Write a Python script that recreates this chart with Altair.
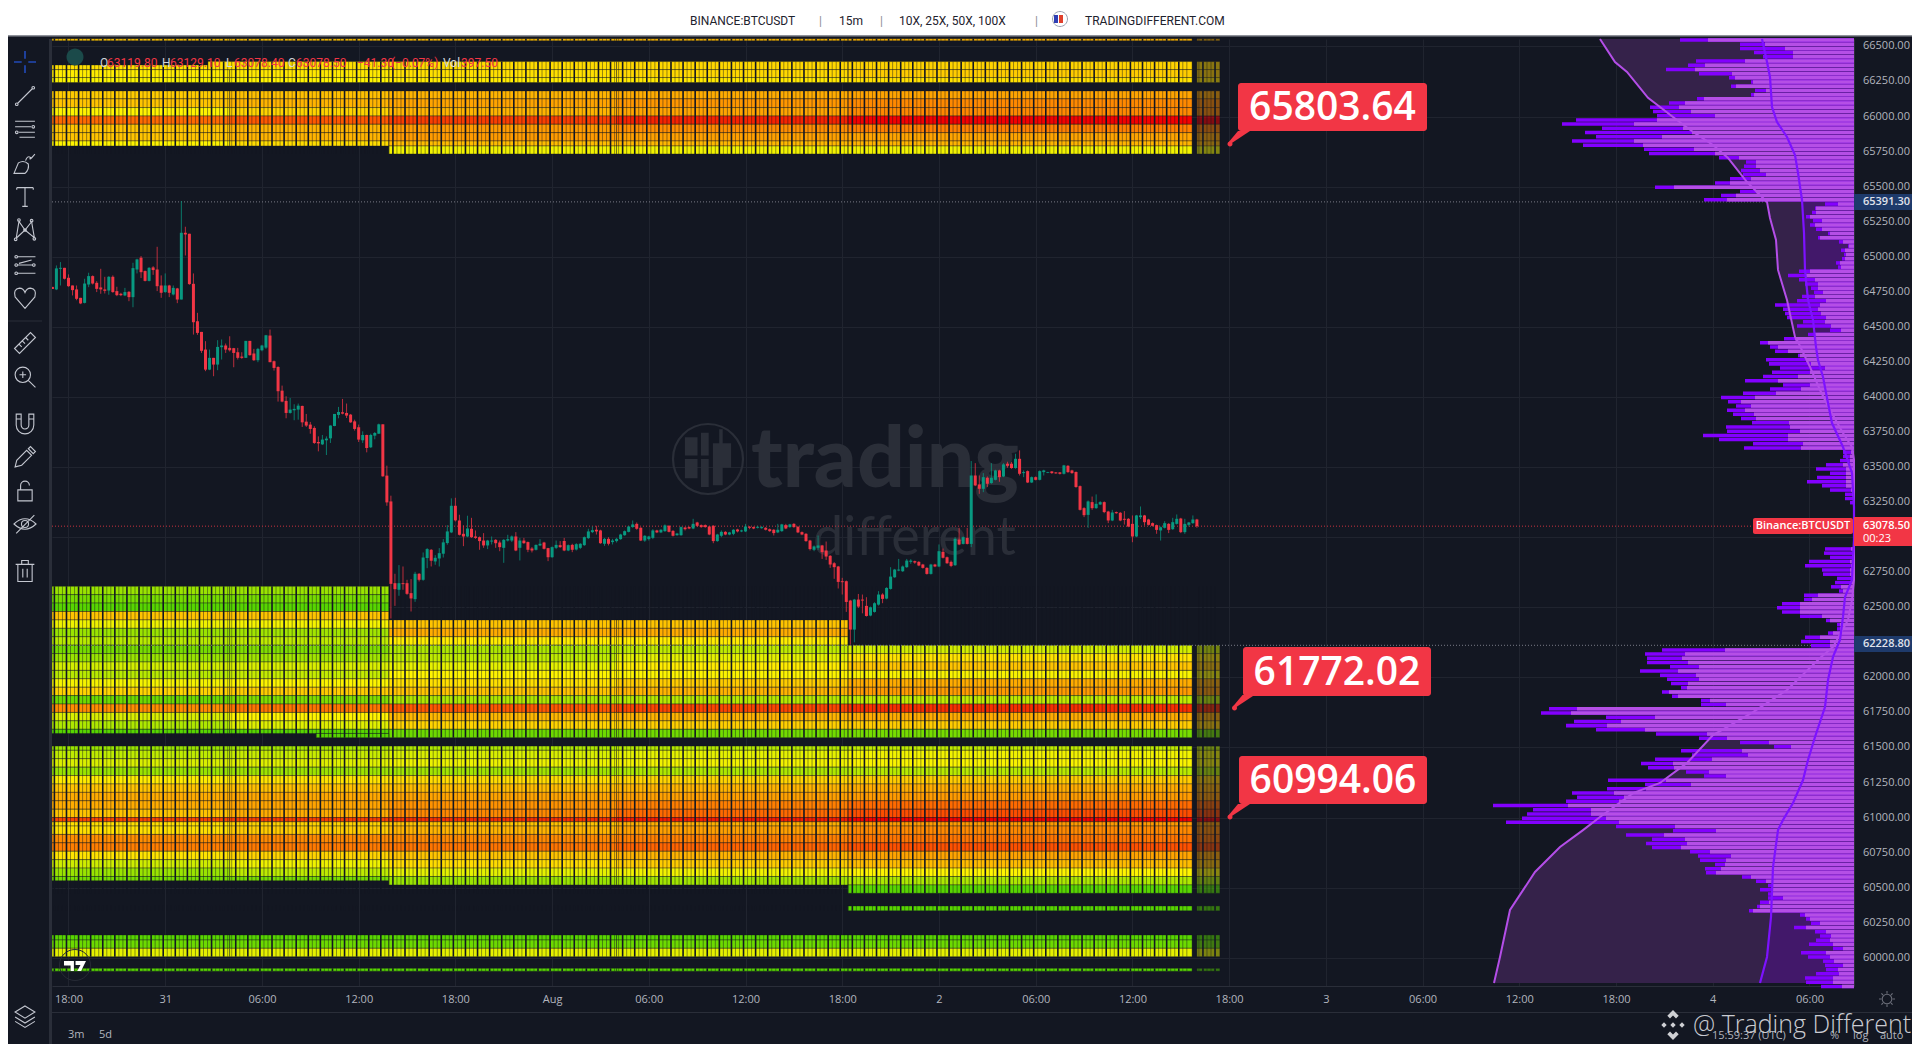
import altair as alt
import pandas as pd

alt.data_transformers.disable_max_rows()

# ---------- candles: first bar index, then open / high / low / close (USD) ----------
first_bar = -4
opens = [64785,64767,64914,64921,64850,64795,64767,64707,64671,64802,
64862,64814,64781,64767,64759,64857,64755,64736,64724,64750,
64712,64909,64993,64898,64828,64924,64909,64795,64748,64795,
64731,64774,64695,65171,65164,64807,64540,64464,64338,64195,
64279,64231,64355,64367,64350,64348,64319,64288,64279,64400,
64310,64262,64333,64352,64438,64255,64214,64045,63972,63886,
63905,63910,63936,63824,63803,63779,63679,63662,63691,63705,
63793,63872,63891,63886,63874,63826,63784,63691,63729,63641,
63724,63738,63805,63439,63255,62672,62625,62672,62672,62601,
62558,62739,62696,62851,62910,62827,62848,62882,62958,63034,
63224,63119,63024,63005,63060,63005,63000,62976,62941,62969,
62981,62962,62924,62976,62976,63005,62924,62976,62965,62919,
62910,62941,62962,62922,62857,62924,62943,62972,62905,62945,
62912,62924,62943,62993,63036,63053,63048,62953,62988,62965,
62972,62986,63014,63038,63072,63095,63067,62976,62986,62995,
63048,63034,63043,63081,63045,63014,63014,63069,63072,63062,
63105,63086,63086,63076,63081,62972,63010,63038,63019,63024,
63055,63041,63041,63074,63072,63067,63064,63067,63057,63053,
63034,63043,63086,63072,63095,63074,63036,63024,62976,62910,
62924,62941,62905,62867,62814,62791,62686,62686,62548,62341,
62555,62555,62510,62441,62467,62519,62591,62562,62631,62714,
62762,62757,62786,62824,62829,62824,62805,62781,62738,62805,
62791,62895,62857,62824,62800,62983,62952,62995,62952,63440,
63376,63345,63424,63386,63409,63476,63433,63524,63524,63493,
63559,63457,63471,63390,63428,63409,63464,63459,63469,63462,
63462,63452,63509,63476,63464,63364,63207,63159,63250,63207,
63233,63250,63183,63119,63179,63174,63131,63131,63095,63005,
63143,63155,63126,63100,63086,63048,63067,63095,63057,63095,
63133,63036,63088,63100,63126]
highs = [64785,64938,64962,64921,64874,64795,64795,64707,64843,64886,
64867,64826,64914,64857,64862,64867,64786,64743,64778,64755,
64957,64986,65005,64902,64926,64933,65071,64867,64881,64800,
64795,64778,65397,65214,65164,64881,64600,64464,64398,64338,
64279,64405,64410,64381,64433,64350,64350,64319,64400,64400,
64343,64350,64372,64443,64481,64260,64219,64081,64005,63993,
63948,63953,63938,63879,63822,63791,63719,63729,63719,63798,
63793,63929,63986,63953,63879,63838,63803,63755,63731,63738,
63750,63810,63805,63510,63296,62739,62801,62791,62696,62701,
62753,62744,62891,62922,62915,62872,62922,62986,63086,63277,
63281,63160,63084,63153,63138,63048,63005,63029,62981,63005,
62986,62976,62986,63017,63012,63036,62995,62995,62969,62929,
62948,62986,62967,62924,62934,62976,62972,62995,62948,62953,
62957,62957,63005,63060,63076,63081,63053,62995,63000,62988,
62995,63024,63048,63081,63119,63105,63072,63014,63010,63057,
63053,63057,63091,63086,63050,63031,63076,63074,63076,63131,
63110,63091,63091,63081,63086,63024,63048,63043,63038,63057,
63060,63053,63095,63079,63076,63081,63079,63072,63062,63057,
63095,63095,63095,63095,63100,63079,63041,63029,62981,62941,
63012,62945,62969,62872,62822,62795,62710,62691,62553,62560,
62595,62591,62572,62505,62536,62615,62600,62643,62786,62774,
62845,62798,62845,62843,62833,62829,62810,62786,62810,62810,
62948,62919,62862,62833,63000,63067,63005,63067,63543,63528,
63440,63457,63433,63528,63481,63481,63528,63538,63536,63595,
63619,63476,63476,63433,63433,63476,63481,63466,63471,63464,
63464,63516,63514,63481,63469,63369,63214,63262,63290,63305,
63257,63255,63188,63195,63183,63179,63186,63136,63155,63159,
63219,63159,63131,63105,63090,63076,63114,63100,63138,63162,
63138,63131,63109,63155,63131]
lows = [64770,64762,64795,64838,64786,64724,64690,64662,64667,64783,
64802,64748,64736,64738,64729,64743,64719,64719,64719,64683,
64640,64881,64848,64824,64824,64871,64755,64707,64743,64712,
64724,64669,64695,65009,64800,64445,64443,64314,64184,64191,
64148,64191,64267,64314,64324,64212,64267,64272,64279,64295,
64257,64248,64326,64343,64248,64188,63967,63962,63848,63881,
63834,63838,63786,63786,63738,63665,63612,63657,63586,63672,
63791,63848,63876,63850,63815,63760,63679,63672,63605,63636,
63698,63736,63431,63224,62420,62510,62582,62625,62589,62470,
62539,62684,62689,62779,62791,62803,62791,62855,62946,63029,
63112,63012,62936,63000,62995,62988,62910,62924,62915,62948,
62924,62900,62817,62969,62965,62900,62834,62953,62893,62891,
62905,62936,62912,62829,62853,62915,62924,62900,62900,62893,
62905,62915,62938,62988,63029,63019,62953,62938,62941,62948,
62962,62981,63010,63034,63067,63053,62972,62967,62976,62986,
63029,63029,63038,63034,63005,63010,63010,63048,63057,63057,
63072,63067,63067,63014,62957,62967,63000,63014,63014,63014,
63034,63036,63036,63057,63057,63062,63060,63048,63038,63012,
63029,63038,63057,63067,63067,63029,63014,62967,62905,62900,
62910,62845,62838,62781,62703,62634,62591,62467,62234,62250,
62495,62457,62434,62436,62462,62512,62529,62557,62626,62710,
62757,62752,62781,62810,62810,62793,62776,62733,62733,62786,
62786,62848,62810,62786,62795,62943,62948,62948,62929,63364,
63309,63321,63357,63381,63405,63395,63428,63495,63488,63488,
63440,63428,63386,63386,63405,63405,63440,63457,63452,63452,
63447,63447,63459,63452,63352,63190,63143,63067,63195,63202,
63229,63171,63100,63114,63167,63114,63090,63071,62964,63000,
63129,63083,63083,63076,63024,62976,63062,63029,63052,63090,
63029,63024,63076,63095,63067]
closes = [64770,64917,64921,64843,64790,64762,64700,64667,64809,64862,
64809,64771,64767,64757,64857,64748,64726,64726,64748,64712,
64919,64981,64890,64828,64921,64905,64790,64743,64795,64743,
64778,64695,65171,65159,64805,64533,64457,64329,64195,64279,
64231,64357,64367,64338,64333,64314,64279,64279,64400,64298,
64262,64343,64367,64440,64248,64207,64041,63967,63886,63910,
63915,63938,63819,63796,63772,63672,63669,63696,63703,63796,
63879,63893,63881,63867,63819,63772,63696,63729,63636,63729,
63743,63805,63434,63248,62667,62629,62672,62665,62596,62563,
62739,62696,62855,62915,62832,62853,62886,62963,63041,63224,
63120,63017,63005,63062,63000,62995,62972,62941,62976,62976,
62957,62929,62981,62986,63005,62905,62976,62957,62910,62905,
62945,62953,62917,62857,62929,62945,62929,62905,62943,62910,
62950,62953,63000,63041,63050,63041,62957,62988,62953,62976,
62988,63019,63043,63076,63091,63060,62976,63010,63005,63048,
63034,63053,63084,63038,63010,63026,63072,63057,63062,63095,
63081,63072,63072,63019,62972,63019,63038,63019,63034,63053,
63041,63048,63076,63067,63062,63074,63072,63053,63043,63029,
63053,63091,63062,63091,63072,63034,63019,62972,62915,62934,
62941,62893,62862,62805,62786,62681,62679,62538,62341,62555,
62505,62548,62438,62500,62529,62591,62560,62638,62719,62769,
62769,62791,62833,62833,62819,62798,62781,62738,62805,62791,
62900,62853,62814,62795,62988,62948,63000,62952,63440,63369,
63345,63428,63381,63424,63476,63428,63519,63509,63493,63559,
63452,63464,63390,63428,63409,63471,63476,63464,63457,63455,
63452,63512,63464,63457,63357,63195,63157,63255,63207,63238,
63250,63179,63119,63176,63171,63119,63124,63076,63005,63155,
63155,63107,63088,63081,63052,63071,63100,63052,63107,63131,
63036,63095,63105,63126,63078]

# ---------- volume profile: 30 USD rows from the top price down ----------
profile_top_price = 66546
profile_total = [174,114,114,100,91,158,166,188,155,125,103,123,99,103,157,185,204,201,197,278,
292,252,269,258,282,271,210,205,135,108,110,113,111,124,139,199,114,133,150,29,
39,42,48,41,44,38,26,36,15,6,13,10,12,18,16,55,66,55,49,43,
40,52,57,79,71,69,67,51,57,24,46,70,94,84,79,56,88,85,74,82,
91,109,71,84,111,133,126,118,127,121,113,102,128,127,151,135,101,110,11,11,
14,28,38,24,37,47,32,24,9,9,4,1,0,0,0,0,0,0,0,0,
0,29,30,24,45,49,32,31,17,19,23,15,50,50,72,77,72,54,28,17,
17,26,49,53,43,192,209,207,207,184,214,194,187,183,173,192,182,153,153,305,
313,248,280,288,258,198,155,114,80,173,162,199,213,206,168,150,246,209,247,282,
277,288,361,321,327,332,348,238,181,228,202,208,202,164,156,154,139,149,148,112,
98,86,94,86,86,94,97,105,54,48,43,60,39,34,38,45,21,53,46,31,
29,28,38,49,48,33]
profile_value_area = [146,89,69,61,61,109,149,159,122,119,101,118,88,100,150,169,175,163,139,197,
220,171,162,192,220,211,160,139,115,98,98,94,88,103,124,180,98,118,127,16,
38,38,44,32,39,32,24,34,11,5,9,8,9,14,13,44,49,39,36,36,
31,39,28,34,36,33,28,29,23,13,39,59,86,76,66,54,48,43,29,44,
56,76,44,53,78,99,113,103,109,100,98,65,64,54,66,66,51,53,3,4,
4,11,8,8,8,8,8,3,2,1,1,1,0,0,0,0,0,0,0,0,
0,3,1,1,4,3,4,4,3,4,13,11,36,42,54,54,54,32,24,14,
14,21,34,24,24,129,169,172,166,155,176,158,155,166,167,185,176,144,128,277,
283,199,233,247,209,147,127,85,63,112,106,142,181,180,145,128,188,163,208,240,
230,235,286,263,263,248,235,179,138,190,169,167,173,144,123,128,129,133,138,103,
88,81,83,83,71,85,94,101,49,44,34,48,28,23,24,21,11,28,24,20,
11,16,15,21,21,12]
# two curves over the profile: (width from the right edge, price)
curve_a_width = [254,239,227,206,181,161,141,126,107,87,84,78,76,67,59,56,44,34,24,11,2,0,0,2,6,21,34,67,101,141,167,194,221,254,271,294,319,344,354,360]
curve_a_price = [66553,66389,66318,66133,65997,65890,65797,65705,65533,65391,65277,65120,64906,64692,64428,64392,64214,64050,63907,63743,63643,63551,62695,62552,62410,62217,62138,61910,61753,61589,61390,61247,61175,61004,60911,60790,60612,60341,60006,59820]
curve_b_width = [92,87,84,82,77,67,59,56,52,50,49,46,41,38,36,31,26,22,11,2,1,0,0,1,2,9,11,14,21,26,29,39,46,51,61,71,76,81,83,87,94]
curve_b_price = [66553,66389,66282,66068,65961,65854,65726,65598,65405,65170,64906,64692,64549,64356,64264,64143,63957,63814,63643,63458,63337,63215,62980,62859,62695,62574,62431,62267,62146,61982,61789,61575,61411,61268,61104,60983,60911,60647,60291,60006,59820]

# ---------- liquidation heat rows: top, bottom, heat in five time spans ----------
N = None
heat_top = [66555,66392,66335,66278,66183,66126,66064,66004,65945,65885,65826,65790,
62650,62590,62530,62470,62410,62350,62290,62230,62170,62110,62050,61990,61930,61870,61810,61750,61690,61630,61630,
61510,61480,61420,61360,61300,61240,61180,61120,61060,61000,60970,60940,60880,60820,60760,60700,60640,60580,60580,60520,
60370,60163,60127,60068,59925]
heat_bot = [66540,66335,66278,66242,66126,66064,66004,65945,65885,65826,65790,65733,
62590,62530,62470,62410,62350,62290,62230,62170,62110,62050,61990,61930,61870,61810,61750,61690,61630,61600,61570,
61480,61420,61360,61300,61240,61180,61120,61060,61000,60970,60940,60880,60820,60760,60700,60640,60580,60550,60520,60460,
60335,60127,60068,60008,59905]
heat_a1 = [.62,N,.52,.48,.6,.62,.5,.82,.62,.62,.5,N,
.2,.12,.06,.62,.45,.2,.28,.12,.2,.36,.28,.47,.58,.1,.75,.38,.25,.06,N,
.2,.3,.38,.2,.52,.62,.68,.68,.62,.9,.55,.55,.75,.78,.54,.35,.2,.12,N,N,
N,.06,.1,.42,.06]
heat_a2 = [.63,N,.53,.5,.63,.66,.58,.85,.66,.66,.56,N,
.2,.12,.06,.62,.47,.22,.3,.14,.22,.38,.32,.49,.6,.14,.8,.5,.4,.06,N,
.22,.33,.4,.21,.54,.63,.69,.7,.68,.92,.58,.6,.76,.79,.58,.45,.3,.12,N,N,
N,.06,.1,.42,.06]
heat_b1 = [.64,.56,.55,.52,.66,.7,.66,.92,.72,.72,.64,.46,
N,N,N,N,.62,.68,.52,.25,.3,.42,.5,.55,.62,.25,.85,.65,.58,N,.1,
.25,.38,.44,.22,.56,.64,.7,.74,.76,.95,.62,.66,.76,.8,.62,.56,.42,N,.2,N,
N,.06,.1,.42,.06]
heat_b2 = [.65,.57,.57,.53,.68,.73,.7,.97,.75,.71,.65,.46,
N,N,N,N,.62,.68,.52,.3,.42,.52,.49,.6,.66,.27,.9,.66,.59,N,.11,
.27,.42,.46,.25,.58,.66,.71,.78,.82,.98,.67,.71,.78,.83,.66,.6,.46,N,.22,N,
N,.06,.1,.42,.06]
heat_c = [.66,.58,.6,.55,.7,.76,.76,1,.78,.7,.66,.46,
N,N,N,N,N,N,N,.36,.54,.62,.48,.68,.72,.3,.95,.68,.6,N,.12,
.3,.46,.48,.28,.6,.68,.72,.82,.88,1,.72,.76,.8,.87,.7,.64,.5,N,.25,.06,
.06,.06,.1,.42,.06]
span_edges = [-4.1, 40, 79.5, 136, 193.4, 278.8]
dim_span = [280.0, 285.7]
# short pieces of rows that change inside a span
patch_start = [-4.1, 34.6, 34.6, 61.4]
patch_end = [34.6, 40, 79.5, 79.5]
patch_top = [66368, 66392, 66392, 61600]
patch_bot = [66335, 66335, 66335, 61570]
patch_heat = [.55, .55, .55, .06]
heat_bands_top = [66555,66392,66183,62650,61510,60370,60163,59925]
heat_bands_bot = [66540,66242,65733,61570,60460,60335,60008,59905]
heat_stops = [0, .25, .5, .7, .85, 1]
heat_colors = ["#2cd000", "#aee800", "#fff400", "#ffa400", "#ff5800", "#f40000"]

price_ticks = list(range(60000, 66501, 250))
hidden_price_labels = [63000, 62250]
time_ticks = list(range(0, 433, 24))
time_labels = ["18:00","31","06:00","12:00","18:00","Aug","06:00","12:00","18:00","2","06:00","12:00","18:00","3","06:00","12:00","18:00","4","06:00"]
price_lines = [65391.30, 62228.80]
last_price = 63078.50
callouts = ["65803.64", "61772.02", "60994.06"]

# ---------- scales and frames ----------
BG = "#131722"
XMIN, XMAX = -4.094, 443.05
BAR_PX = 4.03
xs = alt.Scale(domain=[XMIN, XMAX], nice=False, zero=False, padding=0)
ys = alt.Scale(domain=[59799, 66553], nice=False, zero=False, padding=0)
def X(f, **k): return alt.X(f, scale=xs, title=None, **k)
def Y(f, **k): return alt.Y(f, scale=ys, title=None, **k)

candles = pd.DataFrame({"b": range(first_bar, first_bar + len(opens)), "o": opens, "h": highs, "l": lows, "c": closes})
up = candles[candles.c >= candles.o]
down = candles[candles.c < candles.o]

cells, dim = [], []
for t, bo, a1, a2, b1, b2, c in zip(heat_top, heat_bot, heat_a1, heat_a2, heat_b1, heat_b2, heat_c):
    for i, v in enumerate((a1, a2, b1, b2, c)):
        if v is not None:
            cells.append(dict(x=span_edges[i], x2=span_edges[i + 1], t=t, b=bo, v=v))
    if c is not None:
        dim.append(dict(x=dim_span[0], x2=dim_span[1], t=t, b=bo, v=c))
for s, e, t, bo, v in zip(patch_start, patch_end, patch_top, patch_bot, patch_heat):
    cells.append(dict(x=s, x2=e, t=t, b=bo, v=v))
cells = pd.DataFrame(cells)
dim = pd.DataFrame(dim)

gaps_thin, gaps_thick = [], []
for t, bo in zip(heat_bands_top, heat_bands_bot):
    for g in range(first_bar, 286):
        if 279 <= g <= 280:
            continue
        (gaps_thick if g % 3 == 0 else gaps_thin).append(dict(x=g - 0.5, t=t, b=bo))
gaps_thin = pd.DataFrame(gaps_thin)
gaps_thick = pd.DataFrame(gaps_thick)

prof = pd.DataFrame({"p": [profile_top_price - 30 * i for i in range(len(profile_total))], "tot": profile_total, "va": profile_value_area})
prof = prof[prof.tot > 0].copy()
prof["xt"] = XMAX - prof.tot / BAR_PX
prof["xv"] = XMAX - prof.va / BAR_PX
prof["xr"] = XMAX
prof["y1"] = prof.p + 12.5
prof["y2"] = prof.p - 12.5
cv_a = pd.DataFrame({"i": range(len(curve_a_price)), "x": [XMAX - w / BAR_PX for w in curve_a_width], "p": curve_a_price, "xr": XMAX})
cv_b = pd.DataFrame({"i": range(len(curve_b_price)), "x": [XMAX - w / BAR_PX for w in curve_b_width], "p": curve_b_price, "xr": XMAX})
price_labels = pd.DataFrame({"p": [p for p in price_ticks if p not in hidden_price_labels]})
price_labels["s"] = price_labels.p.map(lambda v: f"{v:.2f}")

one = pd.DataFrame({"a": [1]})
PL, PT = 52, 39  # page position of the plot's corner

def txt(s, px, py, size=11, color="#b2b5be", font="Open Sans", align="left", weight=400, baseline="middle", opacity=1):
    return alt.Chart(one).mark_text(text=s, font=font, fontSize=size, color=color, align=align, fontWeight=weight,
                                    baseline=baseline, opacity=opacity).encode(x=alt.value(px - PL), y=alt.value(py - PT))
def box(x0, y0, x1, y1, color, r=0, opacity=1):
    return alt.Chart(one).mark_rect(color=color, cornerRadius=r, opacity=opacity).encode(
        x=alt.value(x0 - PL), x2=alt.value(x1 - PL), y=alt.value(y0 - PT), y2=alt.value(y1 - PT))
def icon(px, py, path, span=24, color="#d1d4dc", filled=False, width=1.1, opacity=1):
    if filled:
        kw = dict(filled=True, color=color)
    else:
        kw = dict(filled=False, color=color, strokeWidth=width)
    return alt.Chart(one).mark_point(shape=path, size=span * span, opacity=opacity, **kw).encode(x=alt.value(px - PL), y=alt.value(py - PT))

# ---------- layers ----------
base = alt.Chart(pd.DataFrame({"x": [XMIN, XMAX], "y": [59799, 66553]})).mark_point(opacity=0).encode(
    x=alt.X("x:Q", scale=xs, title=None, axis=alt.Axis(
        values=time_ticks, labelExpr="[" + ",".join(f"'{t}'" for t in time_labels) + "][datum.value/24]",
        grid=True, gridColor="#20242f", gridWidth=1, ticks=False, domainColor="#2a2e39", labelColor="#b2b5be",
        labelFont="Open Sans", labelFontSize=11, labelPadding=7, labelOverlap=False, labelFlush=False)),
    y=alt.Y("y:Q", scale=ys, title=None, axis=alt.Axis(
        orient="right", values=price_ticks, labels=False,
        grid=True, gridColor="#20242f", gridWidth=1, ticks=False, domainColor="#2a2e39")))

layers = [base]

# watermark
WM = "#2a2e38"
logo = "M-0.66,-0.62 L-0.3,-0.62 L-0.3,-0.1 L-0.66,-0.1 Z M-0.2,-0.75 L0.02,-0.75 L0.02,-0.1 L-0.2,-0.1 Z M-0.66,0 L-0.3,0 L-0.3,0.55 L-0.66,0.55 Z M-0.2,0 L0.02,0 L0.02,0.8 L-0.2,0.8 Z M0.14,-0.45 L0.32,-0.45 L0.32,-0.85 L0.42,-0.85 L0.42,-0.45 L0.66,-0.45 L0.66,0.25 L0.42,0.25 L0.42,0.75 L0.14,0.75 Z"
layers += [
    icon(708, 459, "M-1,0 A1,1 0 1,0 1,0 A1,1 0 1,0 -1,0 Z", span=70, color=WM, width=2.2),
    icon(708, 459, logo, span=70, color=WM, filled=True),
    txt("trading", 751, 487, size=84, color=WM, font="Lato", weight=900, baseline="alphabetic"),
    txt("different", 813, 555, size=54, color=WM, font="Lato", weight=400, baseline="alphabetic"),
]

# heat map
heat_color = alt.Color("v:Q", legend=None, scale=alt.Scale(domain=heat_stops, range=heat_colors, clamp=True))
layers += [
    alt.Chart(cells).mark_rect(stroke=BG, strokeWidth=0.7, strokeOpacity=0.55).encode(x=X("x:Q"), x2="x2:Q", y=Y("t:Q"), y2="b:Q", color=heat_color),
    alt.Chart(dim).mark_rect(stroke=BG, strokeWidth=0.7, strokeOpacity=0.55, opacity=0.5).encode(x=X("x:Q"), x2="x2:Q", y=Y("t:Q"), y2="b:Q", color=heat_color),
    alt.Chart(gaps_thin).mark_rule(color=BG, strokeWidth=1, opacity=0.45).encode(x=X("x:Q"), y=Y("t:Q"), y2="b:Q"),
    alt.Chart(gaps_thick).mark_rule(color=BG, strokeWidth=1.6).encode(x=X("x:Q"), y=Y("t:Q"), y2="b:Q"),
]

# price lines
for p, col in [(price_lines[0], "#787b86"), (price_lines[1], "#787b86"), (last_price, "#c8323f")]:
    layers.append(alt.Chart(pd.DataFrame({"p": [p], "a": [XMIN], "z": [XMAX]})).mark_rule(color=col, strokeWidth=1, strokeDash=[1, 2]).encode(x=X("a:Q"), x2="z:Q", y=Y("p:Q")))

# candles
for frame, col in [(up, "#089981"), (down, "#f23645")]:
    layers.append(alt.Chart(frame).mark_rule(color=col, strokeWidth=1, opacity=0.75).encode(x=X("b:Q"), y=Y("h:Q"), y2="l:Q"))
    layers.append(alt.Chart(frame).mark_bar(color=col, size=3).encode(x=X("b:Q"), y=Y("o:Q"), y2="c:Q"))

# volume profile
layers += [
    alt.Chart(cv_a).mark_area(color="#35224a", opacity=1, orient="horizontal").encode(x=X("x:Q"), x2="xr:Q", y=Y("p:Q")),
    alt.Chart(cv_b).mark_area(color="#42186a", opacity=1, orient="horizontal").encode(x=X("x:Q"), x2="xr:Q", y=Y("p:Q")),
    alt.Chart(prof).mark_rect(color="#8300ff").encode(x=X("xt:Q"), x2="xr:Q", y=Y("y1:Q"), y2="y2:Q"),
    alt.Chart(prof).mark_rect(color="#b54fe6").encode(x=X("xv:Q"), x2="xr:Q", y=Y("y1:Q"), y2="y2:Q"),
    alt.Chart(cv_a).mark_line(color="#b44ee8", strokeWidth=2).encode(x=X("x:Q"), y=Y("p:Q"), order=alt.Order("i:Q")),
    alt.Chart(cv_b).mark_line(color="#7d12ff", strokeWidth=2.2).encode(x=X("x:Q"), y=Y("p:Q"), order=alt.Order("i:Q")),
]

# price scale labels
layers.append(alt.Chart(price_labels).mark_text(font="Open Sans", fontSize=11, color="#b2b5be", align="left", baseline="middle").encode(
    x=alt.value(1863 - PL), y=Y("p:Q"), text="s:N"))

# legend line over the chart
OHLC = [("O", 100, "#d1d4dc"), ("63119.80", 107, "#f23645"), ("H", 162, "#d1d4dc"), ("63129.10", 170, "#f23645"),
        ("L", 226, "#d1d4dc"), ("63078.40", 234, "#f23645"), ("C", 288, "#d1d4dc"), ("63078.50", 296, "#f23645"),
        ("\u221241.30", 357, "#f23645"), ("(\u22120.07%)", 391, "#f23645"), ("Vol", 443, "#d1d4dc"), ("397.50", 461, "#f23645")]
layers.append(icon(75, 57, "M-1,0 A1,1 0 1,0 1,0 A1,1 0 1,0 -1,0 Z", span=17, color="#1b4a4a", filled=True))
for s, x, c in OHLC:
    layers.append(txt(s, x, 63, size=12, color=c, font="Roboto"))

# callouts
RED = "#f23645"
tip = "M-0.1,-0.35 L0.5,-0.35 L-0.52,0.32 L-0.58,0.22 Z"
for s, (x0, y0, x1, y1, tx, ty) in zip(callouts, [(1238, 83, 1427, 131, 1230, 144), (1243, 647, 1431, 696, 1234.5, 708), (1239, 756, 1427, 804, 1230, 817)]):
    layers.append(icon(tx + 10, ty - 6, tip, span=40, color=RED, filled=True))
    layers.append(icon(tx, ty, "M-1,0 A1,1 0 1,0 1,0 A1,1 0 1,0 -1,0 Z", span=5, color=RED, filled=True))
    layers.append(box(x0, y0, x1, y1, RED, r=3))
    layers.append(txt(s, (x0 + x1) / 2, (y0 + y1) / 2 + 1, size=39, color="#ffffff", align="center", weight=600))

# price tags
layers += [
    box(1854, 194, 1912, 210, "#1e3a6b"), txt("65391.30", 1863, 202, color="#e0e3eb", weight=600),
    box(1854, 636, 1912, 652, "#1e3a6b"), txt("62228.80", 1863, 644, color="#e0e3eb", weight=600),
    box(1753, 518, 1853, 534, RED, r=2), txt("Binance:BTCUSDT", 1803, 526, size=11, color="#ffffff", align="center", weight=600),
    box(1854, 517, 1912, 546, RED), txt("63078.50", 1863, 526, color="#ffffff", weight=600), txt("00:23", 1863, 539, color="#ffffff"),
]

# page chrome
layers += [
    box(0, 8, 1920, 35, "#ffffff"), box(0, 35, 1920, 36.5, "#8f929a"),
    box(49, 39, 52, 1044, "#2a2e39"), box(8, 320.5, 42, 321.5, "#2a2e39"),
    box(52, 1012, 1912, 1013, "#2a2e39"),
    txt("BINANCE:BTCUSDT", 690, 21, size=12, color="#1e222d", font="Roboto"), txt("|", 819, 21, size=12, color="#8a8d96", font="Roboto"),
    txt("15m", 839, 21, size=12, color="#1e222d", font="Roboto"), txt("|", 880, 21, size=12, color="#8a8d96", font="Roboto"),
    txt("10X, 25X, 50X, 100X", 899, 21, size=12, color="#1e222d", font="Roboto"), txt("|", 1035, 21, size=12, color="#8a8d96", font="Roboto"),
    icon(1060, 19, "M-1,0 A1,1 0 1,0 1,0 A1,1 0 1,0 -1,0 Z", span=15, color="#9aa0b0", width=1),
    icon(1058, 19, "M-1,-1 L0,-1 L0,1 L-1,1 Z", span=8, color="#2f3fb4", filled=True),
    icon(1063, 19, "M-1,-1 L0,-1 L0,1 L-1,1 Z", span=8, color="#e0402c", filled=True),
    txt("TRADINGDIFFERENT.COM", 1085, 21, size=12, color="#1e222d", font="Roboto"),
    txt("3m", 68, 1035, size=11), txt("5d", 99, 1035, size=11),
    txt("15:59:37 (UTC)", 1712, 1036, size=11), txt("%", 1830, 1036, size=11), txt("log", 1853, 1036, size=11), txt("auto", 1880, 1036, size=11),
    txt("@ Trading Different", 1693, 1025, size=25, color="#c9cbd1", weight=300),
    icon(1673, 1025, "M0,-1 L0.38,-0.62 L0.2,-0.44 L0,-0.64 L-0.2,-0.44 L-0.38,-0.62 Z M-0.6,-0.18 L-0.42,0 L-0.6,0.18 L-0.78,0 Z M0.6,-0.18 L0.78,0 L0.6,0.18 L0.42,0 Z M0,-0.18 L0.18,0 L0,0.18 L-0.18,0 Z M0,1 L0.38,0.62 L0.2,0.44 L0,0.64 L-0.2,0.44 L-0.38,0.62 Z",
         span=30, color="#cfd0d4", filled=True),
    icon(1887, 999, "M-0.6,0 A0.6,0.6 0 1,0 0.6,0 A0.6,0.6 0 1,0 -0.6,0 Z M0,-1 L0,-0.7 M0,1 L0,0.7 M-1,0 L-0.7,0 M1,0 L0.7,0 M-0.7,-0.7 L-0.5,-0.5 M0.7,0.7 L0.5,0.5 M-0.7,0.7 L-0.5,0.5 M0.7,-0.7 L0.5,-0.5", span=16, color="#6a6d78"),
    # TradingView mark
    icon(75, 965, "M-1,0 A1,1 0 1,0 1,0 A1,1 0 1,0 -1,0 Z", span=31, color="#262a35", width=1),
    icon(75, 966, "M-1,-0.45 L-0.1,-0.45 L-0.1,0.45 L-0.4,0.45 L-0.4,-0.05 L-1,-0.05 Z M0.05,-0.45 L1,-0.45 L0.55,0.45 L0.2,0.45 L0.5,-0.1 L0.05,-0.1 Z", span=22, color="#ffffff", filled=True),
]

# tool icons
circ = lambda x, y, r=0.12: f"M{x-r},{y} A{r},{r} 0 1,0 {x+r},{y} A{r},{r} 0 1,0 {x-r},{y} Z "
tools = [
    (62, "M-1,0 L-0.3,0 M0.3,0 L1,0 M0,-1 L0,-0.3 M0,0.3 L0,1", "#2962ff"),
    (96, circ(-0.75, 0.75) + circ(0.75, -0.75) + "M-0.66,0.66 L0.66,-0.66", None),
    (129, "M-0.9,-0.7 L0.9,-0.7 M-0.9,-0.2 L0.55,-0.2 M-0.55,0.3 L0.9,0.3 M-0.5,0.75 L0.9,0.75" + " " + circ(0.75, -0.2) + circ(-0.75, 0.3), None),
    (164, "M-1,0.85 L-0.6,-0.1 Q-0.1,-0.4 0.3,0 Q0.4,0.5 0,0.85 Z M0.05,-0.3 Q0.2,-0.8 0.5,-0.6 Q0.3,-0.2 0.9,-0.9", None),
    (197, "M-0.75,-0.85 L0.75,-0.85 M0,-0.85 L0,0.85 M-0.25,0.85 L0.25,0.85 M-0.75,-0.85 L-0.75,-0.65 M0.75,-0.85 L0.75,-0.65", None),
    (230, circ(-0.85, 0.85) + circ(0.85, 0.8) + circ(-0.55, -0.9) + circ(0.6, -0.85) + circ(0, 0) + "M-0.8,0.75 L-0.55,-0.78 L0,0 L0.6,-0.75 L0.85,0.7 L0,0 L-0.8,0.75", None),
    (265, circ(-0.8, -0.75) + circ(-0.8, 0) + circ(-0.8, 0.75) + circ(0.8, 0) + "M-0.65,-0.75 L0.95,-0.75 M-0.65,0 L0.65,0 M-0.65,0.75 L0.95,0.75 M-0.55,-0.15 L0.6,-0.45", None),
    (298, "M0,0.95 L-0.9,-0.1 Q-1.1,-0.8 -0.5,-0.9 Q-0.15,-0.9 0,-0.5 Q0.15,-0.9 0.5,-0.9 Q1.1,-0.8 0.9,-0.1 Z", None),
    (343, "M-0.95,0.5 L0.5,-0.95 L0.95,-0.5 L-0.5,0.95 Z M-0.55,0.1 L-0.3,0.35 M-0.25,-0.2 L0,0.05 M0.05,-0.5 L0.3,-0.25", None),
    (377, "M-0.9,-0.2 A0.7,0.7 0 1,0 0.5,-0.2 A0.7,0.7 0 1,0 -0.9,-0.2 Z M0.3,0.3 L0.95,0.95 M-0.5,-0.2 L0.1,-0.2 M-0.2,-0.5 L-0.2,0.1", None),
    (424, "M-0.8,-0.9 L-0.8,0.1 A0.8,0.8 0 0,0 0.8,0.1 L0.8,-0.9 L0.35,-0.9 L0.35,0.1 A0.35,0.35 0 0,1 -0.35,0.1 L-0.35,-0.9 Z M-0.8,-0.45 L-0.35,-0.45 M0.35,-0.45 L0.8,-0.45", None),
    (457, "M-0.9,0.9 L-0.75,0.3 L0.15,-0.6 L0.6,-0.15 L-0.3,0.75 Z M0.3,-0.75 L0.5,-0.95 L0.95,-0.5 L0.75,-0.3 Z", None),
    (491, "M-0.65,-0.1 L0.65,-0.1 L0.65,0.9 L-0.65,0.9 Z M-0.4,-0.1 L-0.4,-0.5 A0.4,0.4 0 0,1 0.4,-0.5", None),
    (524, "M-1,0 Q0,-0.95 1,0 Q0,0.95 -1,0 Z" + " " + circ(0, 0, 0.32) + "M-0.8,0.85 L0.85,-0.8", None),
    (571, "M-0.85,-0.6 L0.85,-0.6 M-0.65,-0.6 L-0.65,0.95 L0.65,0.95 L0.65,-0.6 M-0.3,-0.6 L-0.3,-0.95 L0.3,-0.95 L0.3,-0.6 M-0.2,-0.2 L-0.2,0.6 M0.2,-0.2 L0.2,0.6", None),
    (1017, "M0,-1 L0.9,-0.45 L0,0.1 L-0.9,-0.45 Z M-0.9,0 L0,0.55 L0.9,0 M-0.9,0.4 L0,0.95 L0.9,0.4", None),
]
for py, path, col in tools:
    layers.append(icon(25, py, path, span=22, color=col or "#c4c7d0"))

chart = alt.layer(*layers).properties(
    width=1802, height=947,
    padding={"left": 44, "top": 31, "right": 58, "bottom": 58},
    autosize=alt.AutoSizeParams(type="none"),
    background=BG,
).configure_view(stroke=None)

chart.save("out.html", embed_options={"renderer": "svg", "actions": False})
